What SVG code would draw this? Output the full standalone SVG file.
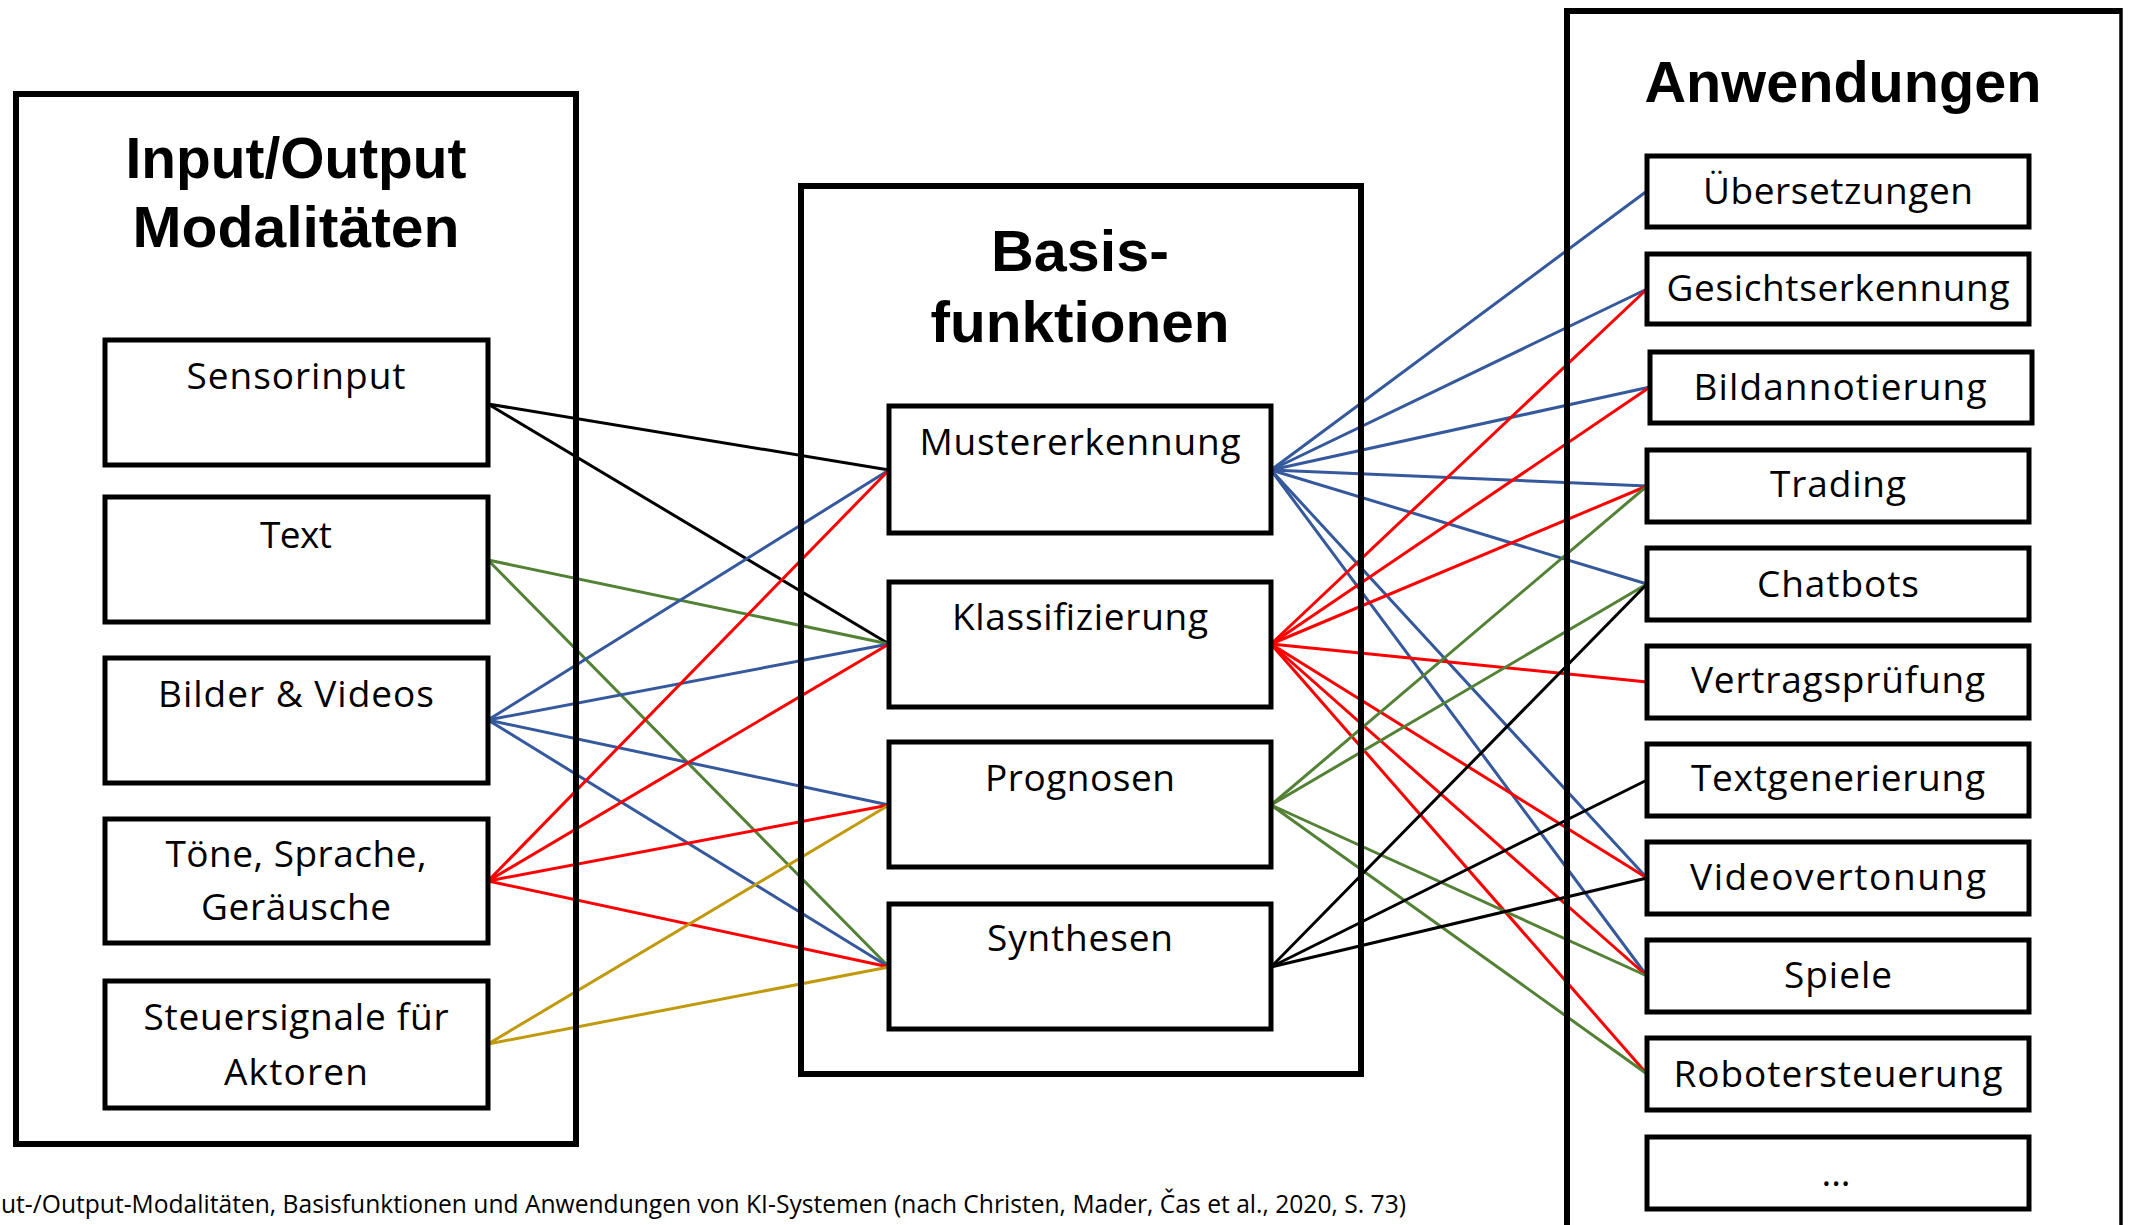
<svg xmlns="http://www.w3.org/2000/svg" width="2131" height="1225" viewBox="0 0 2131 1225">
<style>
.outer{fill:none;stroke:#000;stroke-width:6}
.box{fill:#fff;stroke:#000;stroke-width:5}
.title{font-family:"Liberation Sans",Arial,sans-serif;font-weight:bold;font-size:57px;text-anchor:middle;fill:#000}
.lbl{font-family:"Open Sans","Noto Sans",sans-serif;font-size:37px;text-anchor:middle;fill:#000}
.cap{font-family:"Open Sans","Noto Sans",sans-serif;font-size:25px;fill:#000}
.c{fill:none;stroke-width:3;stroke-linecap:round}
.k{stroke:#000}
.b{stroke:#35599c}
.r{stroke:#ff0000}
.g{stroke:#538135}
.y{stroke:#c09a0c}
</style>
<rect width="2131" height="1225" fill="#fff"/>

<g id="connectors">
  <line class="c k" x1="488" y1="404" x2="889" y2="470"/>
  <line class="c k" x1="488" y1="404" x2="889" y2="644"/>
  <line class="c g" x1="488" y1="560" x2="889" y2="644"/>
  <line class="c g" x1="488" y1="560" x2="889" y2="967"/>
  <line class="c b" x1="488" y1="720" x2="889" y2="470"/>
  <line class="c b" x1="488" y1="720" x2="889" y2="644"/>
  <line class="c b" x1="488" y1="720" x2="889" y2="805"/>
  <line class="c b" x1="488" y1="720" x2="889" y2="967"/>
  <line class="c r" x1="488" y1="881" x2="889" y2="470"/>
  <line class="c r" x1="488" y1="881" x2="889" y2="644"/>
  <line class="c r" x1="488" y1="881" x2="889" y2="805"/>
  <line class="c r" x1="488" y1="881" x2="889" y2="967"/>
  <line class="c y" x1="488" y1="1044" x2="889" y2="805"/>
  <line class="c y" x1="488" y1="1044" x2="889" y2="967"/>
  <line class="c b" x1="1271" y1="470" x2="1647" y2="191"/>
  <line class="c b" x1="1271" y1="470" x2="1647" y2="289"/>
  <line class="c b" x1="1271" y1="470" x2="1650" y2="387"/>
  <line class="c b" x1="1271" y1="470" x2="1647" y2="486"/>
  <line class="c b" x1="1271" y1="470" x2="1647" y2="584"/>
  <line class="c b" x1="1271" y1="470" x2="1647" y2="878"/>
  <line class="c b" x1="1271" y1="470" x2="1647" y2="976"/>
  <line class="c r" x1="1271" y1="644" x2="1647" y2="289"/>
  <line class="c r" x1="1271" y1="644" x2="1650" y2="387"/>
  <line class="c r" x1="1271" y1="644" x2="1647" y2="486"/>
  <line class="c r" x1="1271" y1="644" x2="1647" y2="682"/>
  <line class="c r" x1="1271" y1="644" x2="1647" y2="878"/>
  <line class="c r" x1="1271" y1="644" x2="1647" y2="976"/>
  <line class="c r" x1="1271" y1="644" x2="1647" y2="1074"/>
  <line class="c g" x1="1271" y1="805" x2="1647" y2="486"/>
  <line class="c g" x1="1271" y1="805" x2="1647" y2="584"/>
  <line class="c g" x1="1271" y1="805" x2="1647" y2="976"/>
  <line class="c g" x1="1271" y1="805" x2="1647" y2="1074"/>
  <line class="c k" x1="1271" y1="967" x2="1647" y2="584"/>
  <line class="c k" x1="1271" y1="967" x2="1647" y2="780"/>
  <line class="c k" x1="1271" y1="967" x2="1647" y2="878"/>
</g>

<g id="io-group">
  <rect class="outer" x="16" y="94" width="560" height="1050"/>
  <text class="title" x="296" y="178" textLength="341" lengthAdjust="spacingAndGlyphs">Input/Output</text>
  <text class="title" x="296" y="247" textLength="327" lengthAdjust="spacingAndGlyphs">Modalitäten</text>
</g>
<g id="io-sensorinput">
  <rect class="box" x="105" y="340" width="383" height="125"/>
  <text class="lbl" x="296" y="389" textLength="219" lengthAdjust="spacing">Sensorinput</text>
</g>
<g id="io-text">
  <rect class="box" x="105" y="497" width="383" height="125"/>
  <text class="lbl" x="296" y="548" textLength="72" lengthAdjust="spacing">Text</text>
</g>
<g id="io-bilder">
  <rect class="box" x="105" y="658" width="383" height="125"/>
  <text class="lbl" x="296" y="707" textLength="276" lengthAdjust="spacing">Bilder &amp; Videos</text>
</g>
<g id="io-toene">
  <rect class="box" x="105" y="819" width="383" height="124"/>
  <text class="lbl" x="296" y="867" textLength="261" lengthAdjust="spacing">Töne, Sprache,</text>
  <text class="lbl" x="296" y="920" textLength="190" lengthAdjust="spacing">Geräusche</text>
</g>
<g id="io-steuersignale">
  <rect class="box" x="105" y="981" width="383" height="127"/>
  <text class="lbl" x="296" y="1030" textLength="305" lengthAdjust="spacing">Steuersignale für</text>
  <text class="lbl" x="296" y="1085" textLength="144" lengthAdjust="spacing">Aktoren</text>
</g>

<g id="basis-group">
  <rect class="outer" x="801" y="186" width="560" height="888"/>
  <text class="title" x="1080" y="271" textLength="178" lengthAdjust="spacingAndGlyphs">Basis-</text>
  <text class="title" x="1080" y="342" textLength="299" lengthAdjust="spacingAndGlyphs">funktionen</text>
</g>
<g id="basis-muster">
  <rect class="box" x="889" y="406" width="382" height="127"/>
  <text class="lbl" x="1080" y="455" textLength="321" lengthAdjust="spacing">Mustererkennung</text>
</g>
<g id="basis-klass">
  <rect class="box" x="889" y="582" width="382" height="125"/>
  <text class="lbl" x="1080" y="630" textLength="256" lengthAdjust="spacing">Klassifizierung</text>
</g>
<g id="basis-prognosen">
  <rect class="box" x="889" y="742" width="382" height="125"/>
  <text class="lbl" x="1080" y="791" textLength="190" lengthAdjust="spacing">Prognosen</text>
</g>
<g id="basis-synthesen">
  <rect class="box" x="889" y="904" width="382" height="125"/>
  <text class="lbl" x="1080" y="951" textLength="186" lengthAdjust="spacing">Synthesen</text>
</g>

<g id="anw-group">
  <path d="M1567,1240 V11 H2121" fill="none" stroke="#000" stroke-width="6"/>
  <line x1="2121" y1="8" x2="2121" y2="1240" stroke="#000" stroke-width="3.5"/>
  <text class="title" x="1843" y="102" textLength="397" lengthAdjust="spacingAndGlyphs">Anwendungen</text>
</g>
<g id="anw-uebersetzungen">
  <rect class="box" x="1647" y="156" width="382" height="71"/>
  <text class="lbl" x="1838" y="204" textLength="270" lengthAdjust="spacing">Übersetzungen</text>
</g>
<g id="anw-gesicht">
  <rect class="box" x="1647" y="254" width="382" height="70"/>
  <text class="lbl" x="1838" y="301" textLength="343" lengthAdjust="spacing">Gesichtserkennung</text>
</g>
<g id="anw-bildannotierung">
  <rect class="box" x="1650" y="352" width="382" height="71"/>
  <text class="lbl" x="1840" y="400" textLength="293" lengthAdjust="spacing">Bildannotierung</text>
</g>
<g id="anw-trading">
  <rect class="box" x="1647" y="450" width="382" height="72"/>
  <text class="lbl" x="1838" y="497" textLength="136" lengthAdjust="spacing">Trading</text>
</g>
<g id="anw-chatbots">
  <rect class="box" x="1647" y="548" width="382" height="72"/>
  <text class="lbl" x="1838" y="597" textLength="162" lengthAdjust="spacing">Chatbots</text>
</g>
<g id="anw-vertrag">
  <rect class="box" x="1647" y="646" width="382" height="72"/>
  <text class="lbl" x="1838" y="693" textLength="294" lengthAdjust="spacing">Vertragsprüfung</text>
</g>
<g id="anw-textgen">
  <rect class="box" x="1647" y="744" width="382" height="72"/>
  <text class="lbl" x="1838" y="791" textLength="294" lengthAdjust="spacing">Textgenerierung</text>
</g>
<g id="anw-video">
  <rect class="box" x="1647" y="842" width="382" height="72"/>
  <text class="lbl" x="1838" y="890" textLength="296" lengthAdjust="spacing">Videovertonung</text>
</g>
<g id="anw-spiele">
  <rect class="box" x="1647" y="940" width="382" height="72"/>
  <text class="lbl" x="1838" y="988" textLength="108" lengthAdjust="spacing">Spiele</text>
</g>
<g id="anw-roboter">
  <rect class="box" x="1647" y="1038" width="382" height="72"/>
  <text class="lbl" x="1838" y="1087" textLength="329" lengthAdjust="spacing">Robotersteuerung</text>
</g>
<g id="anw-more">
  <rect class="box" x="1647" y="1137" width="382" height="72"/>
  <text class="lbl" x="1836" y="1186">...</text>
</g>

<text class="cap" x="1" y="1213" textLength="1405" lengthAdjust="spacingAndGlyphs">ut-/Output-Modalitäten, Basisfunktionen und Anwendungen von KI-Systemen (nach Christen, Mader, Čas et al., 2020, S. 73)</text>
</svg>
